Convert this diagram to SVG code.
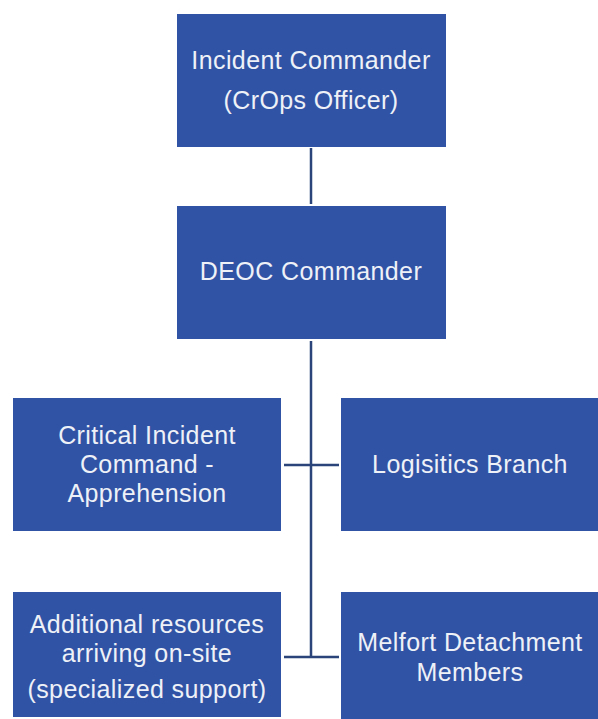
<svg xmlns="http://www.w3.org/2000/svg" width="598" height="719" viewBox="0 0 598 719">
<style>
.box{fill:#3153A5;}
.lbl{font-family:"Liberation Sans",Arial,sans-serif;font-size:25px;letter-spacing:0.4px;fill:#EEF1F7;text-anchor:middle;}
.ln{stroke:#2B4479;stroke-width:2.5;fill:none;}
</style>
<rect width="598" height="719" fill="#FFFFFF"/>
<g id="connectors">
<line class="ln" x1="311" y1="148" x2="311" y2="204"/>
<line class="ln" x1="311" y1="341" x2="311" y2="657"/>
<line class="ln" x1="284" y1="465" x2="339" y2="465"/>
<line class="ln" x1="284" y1="657" x2="339" y2="657"/>
</g>
<g id="incident-commander">
<rect class="box" x="177" y="14" width="269" height="133"/>
<text class="lbl" x="311" y="69">Incident Commander</text>
<text class="lbl" x="311" y="109">(CrOps Officer)</text>
</g>
<g id="deoc-commander">
<rect class="box" x="177" y="206" width="269" height="133"/>
<text class="lbl" x="311" y="280">DEOC Commander</text>
</g>
<g id="critical-incident-command">
<rect class="box" x="13" y="398" width="268" height="133"/>
<text class="lbl" x="147" y="444">Critical Incident</text>
<text class="lbl" x="147" y="473">Command -</text>
<text class="lbl" x="147" y="502">Apprehension</text>
</g>
<g id="logistics-branch">
<rect class="box" x="341" y="398" width="257" height="133"/>
<text class="lbl" x="470" y="473">Logisitics Branch</text>
</g>
<g id="additional-resources">
<rect class="box" x="13" y="592" width="268" height="125"/>
<text class="lbl" x="147" y="633">Additional resources</text>
<text class="lbl" x="147" y="662">arriving on-site</text>
<text class="lbl" x="147" y="698">(specialized support)</text>
</g>
<g id="melfort-detachment">
<rect class="box" x="341" y="592" width="257" height="127"/>
<text class="lbl" x="470" y="651">Melfort Detachment</text>
<text class="lbl" x="470" y="681">Members</text>
</g>
</svg>
